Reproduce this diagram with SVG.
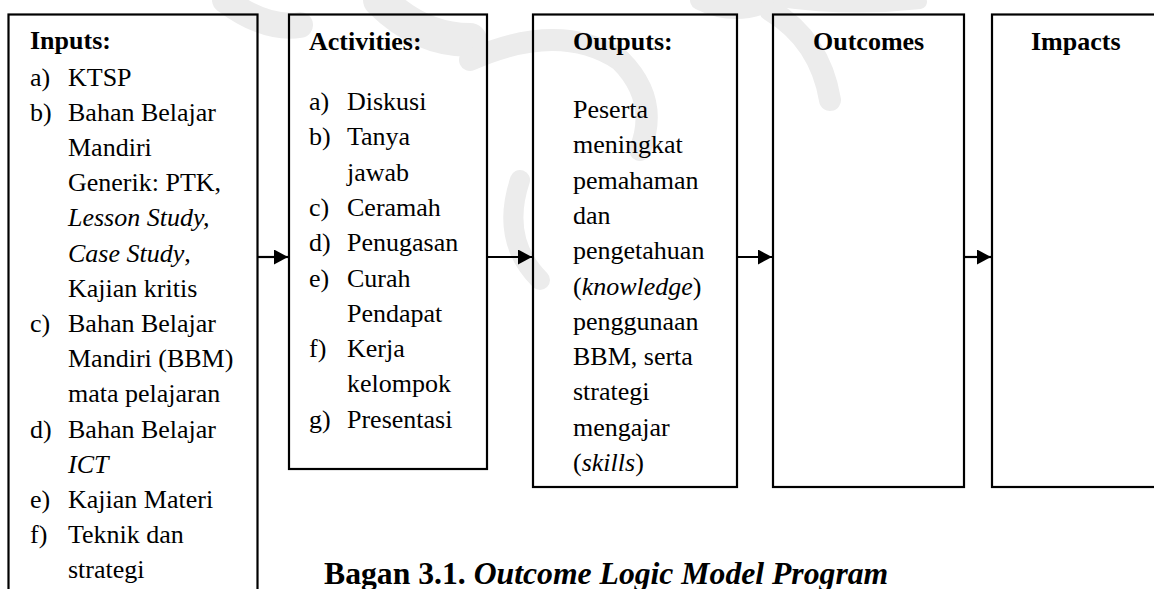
<svg xmlns="http://www.w3.org/2000/svg" width="1154" height="589" viewBox="0 0 1154 589">
<style>
.box{fill:none;stroke:#000;stroke-width:2.2}
.t{font-family:"Liberation Serif","Times New Roman",serif;font-size:26px;fill:#000}
.b{font-weight:bold}
.i{font-style:italic}
.cap{font-family:"Liberation Serif","Times New Roman",serif;font-size:31.7px;font-weight:bold;fill:#000}
.wm{fill:none;stroke:#ececec;stroke-linecap:round}
.con{stroke:#000;stroke-width:2.2;fill:none}
</style>
<defs>
<marker id="ah" viewBox="0 0 14 15" refX="14" refY="7.5" markerWidth="14" markerHeight="15" markerUnits="userSpaceOnUse" orient="auto">
<path d="M0,0 L14,7.5 L0,15 Z" fill="#000"/>
</marker>
</defs>
<rect width="1154" height="589" fill="#fff"/>
<g id="watermark">
<path class="wm" stroke-width="26" d="M225,0 Q265,30 300,25"/>
<path class="wm" stroke-width="34" d="M380,0 Q420,40 470,40"/>
<path class="wm" stroke-width="22" d="M470,60 Q560,20 620,60 Q660,100 640,150"/>
<path class="wm" stroke-width="20" d="M520,180 Q500,240 540,280"/>
<path class="wm" stroke-width="20" d="M700,0 Q730,15 760,5"/>
<path class="wm" stroke-width="22" d="M770,10 Q820,40 830,100"/>
<path class="wm" stroke-width="14" d="M780,0 Q850,10 920,2"/>
</g>
<g id="connectors">
<line class="con" x1="258" y1="257" x2="288" y2="257" marker-end="url(#ah)"/>
<line class="con" x1="488" y1="257" x2="532" y2="257" marker-end="url(#ah)"/>
<line class="con" x1="738" y1="257" x2="772" y2="257" marker-end="url(#ah)"/>
<line class="con" x1="965" y1="257" x2="991" y2="257" marker-end="url(#ah)"/>
</g>
<g id="inputs">
<rect class="box" x="8.5" y="14.5" width="249" height="600"/>
<text class="t b" x="30" y="49">Inputs:</text>
<text class="t" x="30" y="85.5">a)</text><text class="t" x="68" y="85.5">KTSP</text>
<text class="t" x="30" y="120.7">b)</text><text class="t" x="68" y="120.7">Bahan Belajar</text>
<text class="t" x="68" y="155.9">Mandiri</text>
<text class="t" x="68" y="191.1">Generik: PTK,</text>
<text class="t" x="68" y="226.3"><tspan class="i">Lesson Study,</tspan></text>
<text class="t" x="68" y="261.5"><tspan class="i">Case Study</tspan>,</text>
<text class="t" x="68" y="296.7">Kajian kritis</text>
<text class="t" x="30" y="331.9">c)</text><text class="t" x="68" y="331.9">Bahan Belajar</text>
<text class="t" x="68" y="367.1">Mandiri (BBM)</text>
<text class="t" x="68" y="402.3">mata pelajaran</text>
<text class="t" x="30" y="437.5">d)</text><text class="t" x="68" y="437.5">Bahan Belajar</text>
<text class="t i" x="68" y="472.7">ICT</text>
<text class="t" x="30" y="507.9">e)</text><text class="t" x="68" y="507.9">Kajian Materi</text>
<text class="t" x="30" y="543.1">f)</text><text class="t" x="68" y="543.1">Teknik dan</text>
<text class="t" x="68" y="578.3">strategi</text>
</g>
<g id="activities">
<rect class="box" x="289" y="14.5" width="198" height="454.5"/>
<text class="t b" x="309" y="50">Activities:</text>
<text class="t" x="309" y="110">a)</text><text class="t" x="347" y="110">Diskusi</text>
<text class="t" x="309" y="145.3">b)</text><text class="t" x="347" y="145.3">Tanya</text>
<text class="t" x="347" y="180.6">jawab</text>
<text class="t" x="309" y="215.9">c)</text><text class="t" x="347" y="215.9">Ceramah</text>
<text class="t" x="309" y="251.2">d)</text><text class="t" x="347" y="251.2">Penugasan</text>
<text class="t" x="309" y="286.5">e)</text><text class="t" x="347" y="286.5">Curah</text>
<text class="t" x="347" y="321.8">Pendapat</text>
<text class="t" x="309" y="357.1">f)</text><text class="t" x="347" y="357.1">Kerja</text>
<text class="t" x="347" y="392.4">kelompok</text>
<text class="t" x="309" y="427.7">g)</text><text class="t" x="347" y="427.7">Presentasi</text>
</g>
<g id="outputs">
<rect class="box" x="533" y="14.5" width="204" height="472.5"/>
<text class="t b" x="573" y="50">Outputs:</text>
<text class="t" x="573" y="118">Peserta</text>
<text class="t" x="573" y="153.3">meningkat</text>
<text class="t" x="573" y="188.6">pemahaman</text>
<text class="t" x="573" y="223.9">dan</text>
<text class="t" x="573" y="259.2">pengetahuan</text>
<text class="t" x="573" y="294.5">(<tspan class="i">knowledge</tspan>)</text>
<text class="t" x="573" y="329.8">penggunaan</text>
<text class="t" x="573" y="365.1">BBM, serta</text>
<text class="t" x="573" y="400.4">strategi</text>
<text class="t" x="573" y="435.7">mengajar</text>
<text class="t" x="573" y="471">(<tspan class="i">skills</tspan>)</text>
</g>
<g id="outcomes">
<rect class="box" x="773" y="14.5" width="191" height="472.5"/>
<text class="t b" x="813" y="50">Outcomes</text>
</g>
<g id="impacts">
<rect class="box" x="992" y="14.5" width="200" height="472.5"/>
<text class="t b" x="1031" y="50">Impacts</text>
</g>
<g id="caption">
<text class="cap" x="324" y="584">Bagan 3.1. <tspan font-style="italic">Outcome Logic Model Program</tspan></text>
</g>
</svg>
